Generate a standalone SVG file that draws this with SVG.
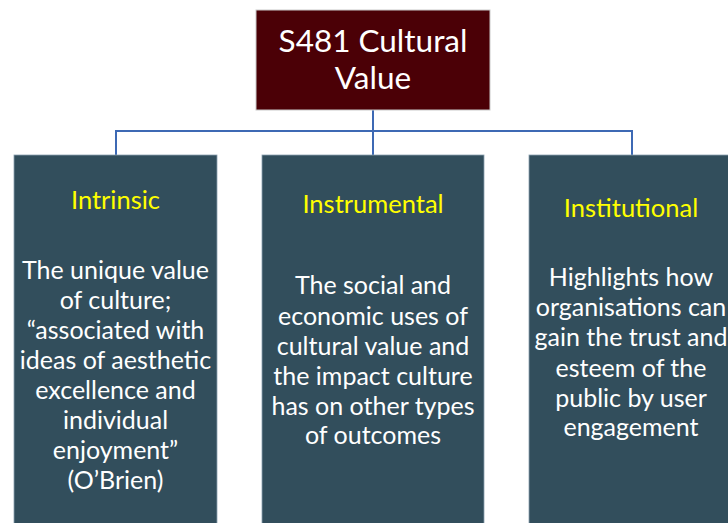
<svg xmlns="http://www.w3.org/2000/svg" width="728" height="523" viewBox="0 0 728 523">
<style>
.top{fill:#4b0006;stroke:#c9c9c9;stroke-width:1}
.col{fill:#324e5c;stroke:#8aa0b0;stroke-width:0.8}
.conn{fill:none;stroke:#3d69b4;stroke-width:2}
text{font-family:Lato,"Open Sans",sans-serif;text-anchor:middle}
.tt{fill:#ffffff;font-size:31.5px}
.hd{fill:#ffff00;font-size:25.5px}
.bd{fill:#ffffff;font-size:25px}
</style>
<rect width="728" height="523" fill="#ffffff"/>
<g id="connectors">
<path class="conn" d="M373,110 V155 M116,131 H632 M116,130 V155 M632,130 V155"/>
</g>
<g id="root">
<rect class="top" x="256" y="10" width="234" height="100"/>
<text class="tt" x="373" y="52">S481 Cultural</text>
<text class="tt" x="373" y="89">Value</text>
</g>
<g id="intrinsic">
<rect class="col" x="14" y="155" width="203" height="380"/>
<text class="hd" x="115.5" y="209">Intrinsic</text>
<text class="bd" x="115.5" y="279">The unique value</text>
<text class="bd" x="115.5" y="309">of culture;</text>
<text class="bd" x="115.5" y="339">“associated with</text>
<text class="bd" x="115.5" y="369">ideas of aesthetic</text>
<text class="bd" x="115.5" y="399">excellence and</text>
<text class="bd" x="115.5" y="429">individual</text>
<text class="bd" x="115.5" y="459">enjoyment”</text>
<text class="bd" x="115.5" y="489">(O’Brien)</text>
</g>
<g id="instrumental">
<rect class="col" x="262" y="155" width="222" height="380"/>
<text class="hd" x="373" y="213">Instrumental</text>
<text class="bd" x="373" y="294">The social and</text>
<text class="bd" x="373" y="325">economic uses of</text>
<text class="bd" x="373" y="355">cultural value and</text>
<text class="bd" x="373" y="385">the impact culture</text>
<text class="bd" x="373" y="415">has on other types</text>
<text class="bd" x="373" y="444">of outcomes</text>
</g>
<g id="institutional">
<rect class="col" x="529" y="155" width="204" height="380"/>
<text class="hd" x="631" y="217">Institutional</text>
<text class="bd" x="631" y="286">Highlights how</text>
<text class="bd" x="631" y="316">organisations can</text>
<text class="bd" x="631" y="346">gain the trust and</text>
<text class="bd" x="631" y="377">esteem of the</text>
<text class="bd" x="631" y="407">public by user</text>
<text class="bd" x="631" y="436">engagement</text>
</g>
</svg>
